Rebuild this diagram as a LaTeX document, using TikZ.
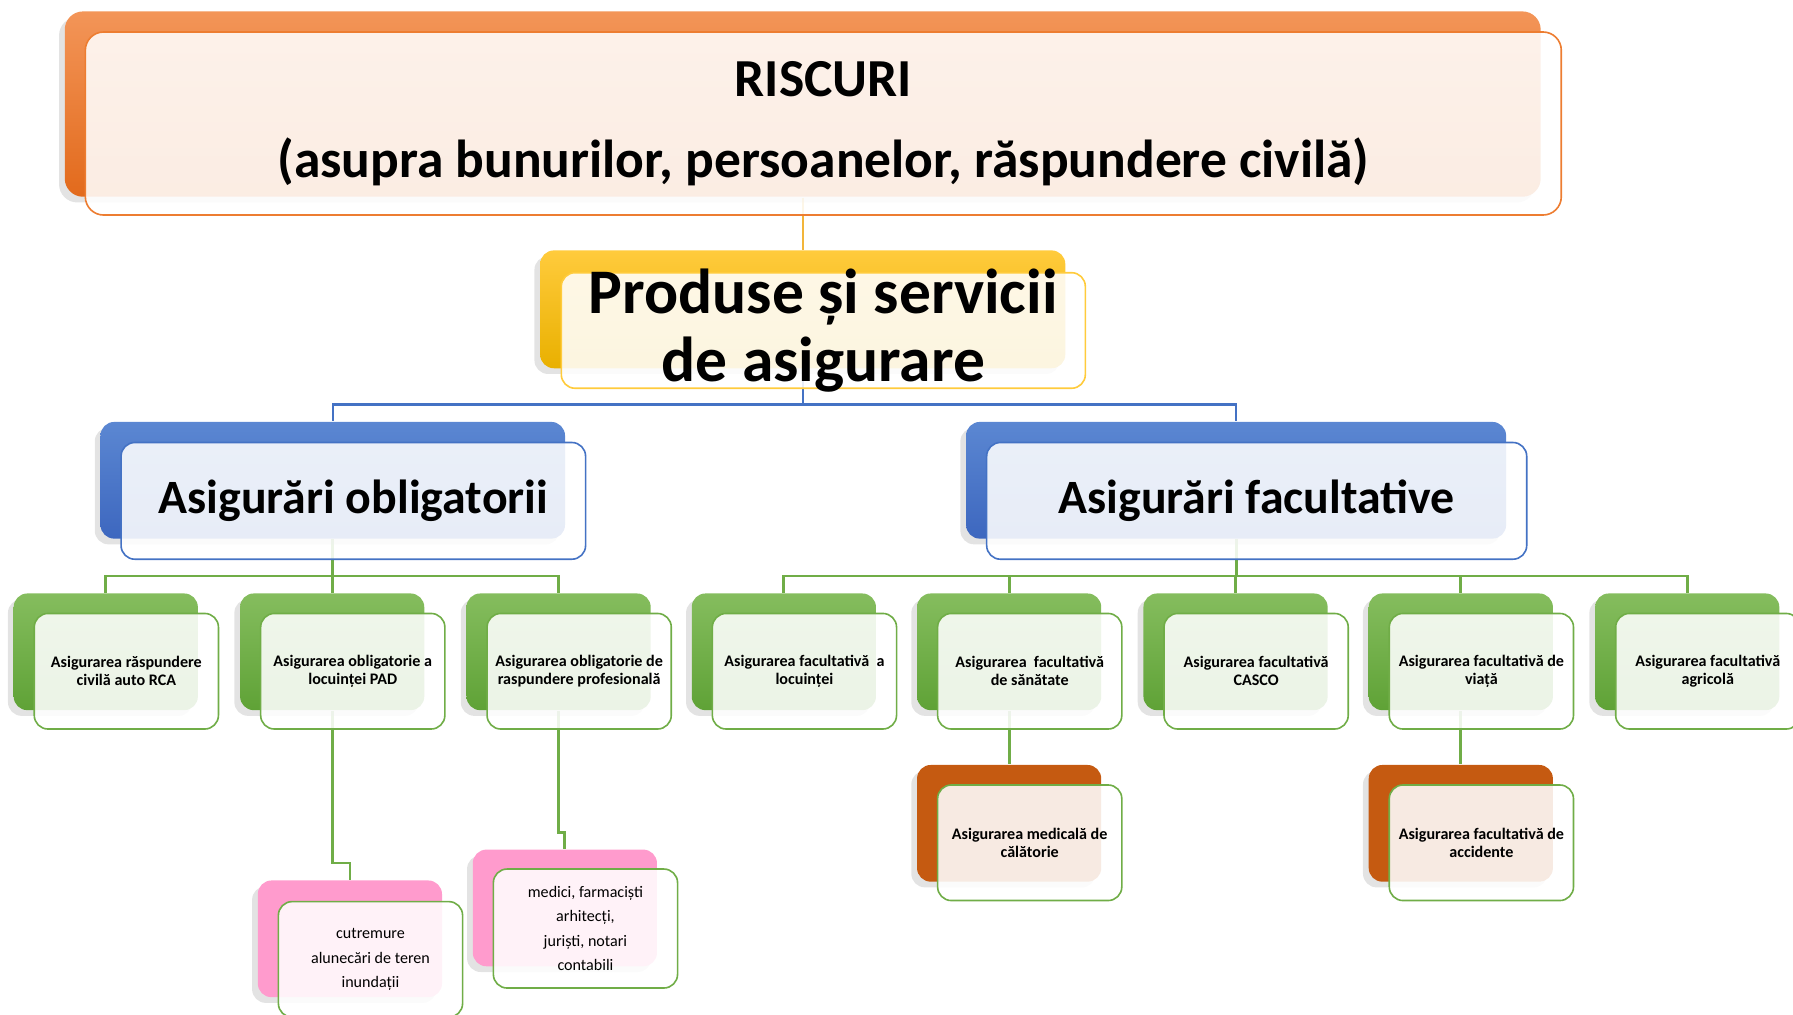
\documentclass[tikz,border=0pt]{standalone}
\usepackage{fontspec}
\setmainfont{Carlito}
\usetikzlibrary{shadows}
\pgfdeclarelayer{background}
\pgfsetlayers{background,main}
\definecolor{riscTop}{HTML}{F39558}
\definecolor{riscBot}{HTML}{E26A1C}
\definecolor{riscLine}{HTML}{ED7D31}
\definecolor{prodTop}{HTML}{FFCB3C}
\definecolor{prodBot}{HTML}{E9B000}
\definecolor{prodLine}{HTML}{F2B53A}
\definecolor{asigTop}{HTML}{5B87D2}
\definecolor{asigBot}{HTML}{3D67BF}
\definecolor{asigLine}{HTML}{4472C4}
\definecolor{prodsTop}{HTML}{85BD5E}
\definecolor{prodsBot}{HTML}{5FA236}
\definecolor{prodsLine}{HTML}{70AD47}
\definecolor{detPink}{HTML}{FF9BCD}
\definecolor{detBrown}{HTML}{C55A11}
\newcommand{\RiscFont}{\fontsize{13.3}{20.2}\selectfont\bfseries}
\newcommand{\ProdFont}{\fontsize{15.8}{17.1}\selectfont\bfseries}
\newcommand{\AsigFont}{\fontsize{11.9}{14}\selectfont\bfseries}
\newcommand{\Sm}{\fontsize{4}{4.55}\selectfont\bfseries}
\newcommand{\Det}{\fontsize{4}{6}\selectfont}

\begin{document}
\begin{tikzpicture}[x=0.01cm,y=-0.01cm]
	\tikzstyle{back} = [rounded corners=1.2mm, minimum width=1.61cm, minimum height=1.02cm, drop shadow={opacity=0.22,shadow xshift=-0.5mm,shadow yshift=-0.5mm}]
	\tikzstyle{front} = [rounded corners=1.2mm, minimum width=1.61cm, minimum height=1.01cm, fill=white, fill opacity=0.88, text opacity=1, line width=0.4pt, align=center, inner sep=1pt, font=\Sm]
	\tikzstyle{riscback} = [back, rounded corners=1.6mm, minimum width=12.9cm, minimum height=1.62cm, top color=riscTop, bottom color=riscBot]
	\tikzstyle{riscfront} = [front, rounded corners=1.6mm, minimum width=12.9cm, minimum height=1.6cm, draw=riscLine, font=\RiscFont]
	\tikzstyle{prodback} = [back, minimum width=4.59cm, minimum height=1.03cm, top color=prodTop, bottom color=prodBot]
	\tikzstyle{prodfront} = [front, minimum width=4.58cm, inner ysep=-2.6pt, draw=prodTop, font=\ProdFont]
	\tikzstyle{asigback} = [back, minimum width=4.06cm, top color=asigTop, bottom color=asigBot]
	\tikzstyle{asigfront} = [front, minimum width=4.06cm, minimum height=1.02cm, draw=asigLine, font=\AsigFont]
	\tikzstyle{gback} = [back, top color=prodsTop, bottom color=prodsBot]
	\tikzstyle{gfront} = [front, draw=prodsLine]
	\tikzstyle{dfront} = [front, draw=prodsLine, font=\Det]
	\tikzstyle{pback} = [back, fill=detPink]
	\tikzstyle{bback} = [back, fill=detBrown]
	\tikzstyle{goldline} = [draw=prodLine, line width=0.5pt]
	\tikzstyle{blueline} = [draw=asigLine, line width=0.6pt]
	\tikzstyle{greenline} = [draw=prodsLine, line width=0.7pt]

	\useasboundingbox (0,0) rectangle (1568,887);

	% risks and products
	\node[riscback] (RiscBack) at (702,91) {};
	\node[riscfront] (Risc) at (720,108) {RISCURI\\ (asupra bunurilor, persoanelor, răspundere civilă)};
	\node[prodback] (ProdBack) at (702,270.5) {};
	\node[prodfront] (Prod) at (720,289) {Produse și servicii\\ de asigurare};

	% the two kinds
	\node[asigback] (ObligBack) at (291,420) {};
	\node[asigfront] (Oblig) at (309,438) {Asigurări obligatorii};
	\node[asigback, minimum width=4.72cm] (FacBack) at (1081,420) {};
	\node[asigfront, minimum width=4.72cm] (Fac) at (1099,438) {Asigurări facultative};

	% mandatory
	\node[gback] (RcaBack) at (92.5,570) {};
	\node[gfront] (Rca) at (110.5,587) {Asigurarea răspundere\\ civilă auto RCA};
	\node[gback] (PadBack) at (290.5,570) {};
	\node[gfront] (Pad) at (308.5,587) {Asigurarea obligatorie a\\ locuinței PAD};
	\node[gback] (ProfBack) at (488.5,570) {};
	\node[gfront] (Prof) at (506.5,587) {Asigurarea obligatorie de\\ raspundere profesională};

	% optional
	\node[gback] (LocBack) at (685.5,570) {};
	\node[gfront] (Loc) at (703.5,587) {Asigurarea facultativă\ \ a\\ locuinței};
	\node[gback] (SanBack) at (882.5,570) {};
	\node[gfront] (San) at (900.5,587) {Asigurarea\ \ facultativă\\ de sănătate};
	\node[gback] (CascoBack) at (1080.5,570) {};
	\node[gfront] (Casco) at (1098.5,587) {Asigurarea facultativă\\ CASCO};
	\node[gback] (ViataBack) at (1277.5,570) {};
	\node[gfront] (Viata) at (1295.5,587) {Asigurarea facultativă de\\ viață};
	\node[gback] (AgriBack) at (1475.5,570) {};
	\node[gfront] (Agri) at (1493.5,587) {Asigurarea facultativă\\ agricolă};

	% details
	\node[pback] (CutrBack) at (306,821) {};
	\node[dfront] (Cutr) at (324,839) {cutremure\\ alunecări de teren\\ inundații};
	\node[pback] (MedBack) at (494,794) {};
	\node[dfront, minimum height=1.04cm] (Med) at (512,812) {medici, farmaciști\\ arhitecți,\\ juriști, notari\\ contabili};
	\node[bback] (CalBack) at (882.5,720) {};
	\node[gfront] (Cal) at (900.5,737) {Asigurarea medicală de\\ călătorie};
	\node[bback] (AccBack) at (1277.5,720) {};
	\node[gfront] (Acc) at (1295.5,737) {Asigurarea facultativă de\\ accidente};

	\begin{pgfonlayer}{background}
		\draw[goldline] (RiscBack.south) -- (ProdBack.north);
		\draw[blueline] (ProdBack.south) -- ++(0,31) -| (ObligBack.north);
		\draw[blueline] (ProdBack.south) -- ++(0,31) -| (FacBack.north);
		\draw[greenline] (ObligBack.south) -- ++(0,32) -| (RcaBack.north);
		\draw[greenline] (ObligBack.south) -- ++(0,32) -| (PadBack.north);
		\draw[greenline] (ObligBack.south) -- ++(0,32) -| (ProfBack.north);
		\draw[greenline] (FacBack.south) -- ++(0,32) -| (LocBack.north);
		\draw[greenline] (FacBack.south) -- ++(0,32) -| (SanBack.north);
		\draw[greenline] (FacBack.south) -- ++(0,32) -| (CascoBack.north);
		\draw[greenline] (FacBack.south) -- ++(0,32) -| (ViataBack.north);
		\draw[greenline] (FacBack.south) -- ++(0,32) -| (AgriBack.north);
		\draw[greenline] (PadBack.south) -- ++(0,133) -| (CutrBack.north);
		\draw[greenline] (ProfBack.south) -- ++(0,106) -| (MedBack.north);
		\draw[greenline] (SanBack.south) -- (CalBack.north);
		\draw[greenline] (ViataBack.south) -- (AccBack.north);
	\end{pgfonlayer}
\end{tikzpicture}
\end{document}
